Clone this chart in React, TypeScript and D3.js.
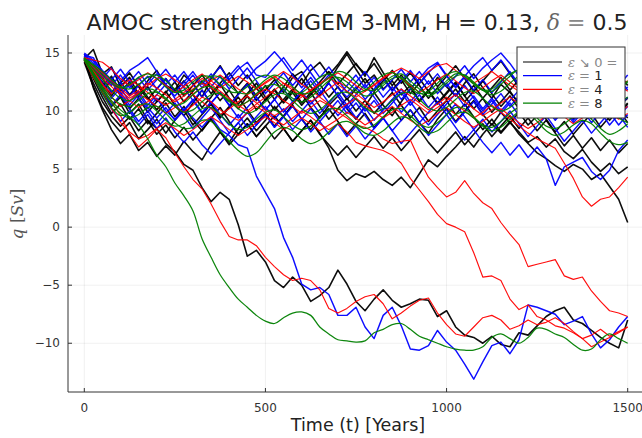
import React from "react";
import * as d3 from "d3";

// sample times (years), step 25
const years: number[] = d3.range(0, 1501, 25);

// ---------- ε ↘ 0 (black) ----------
const k1 = [14.5,15.3,13.2,13.8,12.1,12.9,11.4,12.6,13.5,12.2, 11.8,13.1,12.4,11.2,12.8,13.9,12.6,11.5,12.3,10.9, 11.8,12.7,11.6,12.9,13.4,12.1,11.3,12.5,13.8,14.9, 13.6,12.4,13.1,11.9,12.6,11.4,12.2,10.8,11.7,12.9, 12.1,11.3,12.4,13.2,12.0,11.1,12.3,11.6,10.7,11.9, 12.8,11.5,10.9,12.2,11.4,10.6,11.8,12.5,11.2,10.4, 11.1];
const k2 = [14.2,12.1,10.3,9.1,8.2,9.0,7.6,8.4,9.3,8.1, 9.2,10.1,8.8,9.7,10.6,9.4,10.3,11.2,10.1,9.0, 9.8,8.7,9.6,10.5,9.3,8.4,9.5,10.2,9.1,8.0, 8.9,9.8,8.6,9.4,10.3,9.2,10.1,9.0,8.1,9.3, 10.2,9.1,10.0,10.9,9.7,8.8,9.9,9.0,8.2,7.3, 7.8,6.9,7.6,6.5,5.9,6.7,5.6,4.8,5.5,4.6, 5.2];
const k3 = [14.6,12.0,10.1,8.4,7.2,8.0,6.6,7.3,6.1,7.0, 6.2,7.4,6.5,5.8,7.1,8.2,7.3,8.5,9.4,8.3, 9.2,10.4,9.5,10.6,11.5,10.3,9.4,10.5,11.3,10.2, 9.3,10.4,11.6,10.5,9.6,10.8,11.9,12.8,11.7,10.6, 11.5,12.4,11.3,10.2,11.1,9.9,10.8,11.7,10.6,9.5, 10.4,9.3,8.2,9.1,8.0,8.9,9.8,8.6,9.5,10.3, 9.4];
const k4 = [14.4,13.1,11.8,12.6,11.3,10.2,11.1,9.9,10.8,11.7, 10.5,9.6,10.7,11.8,10.6,9.5,10.4,11.5,12.4,11.3, 12.2,11.0,12.1,13.2,12.3,13.5,14.2,13.1,14.0,15.1, 14.0,13.2,14.1,12.9,11.8,12.7,11.5,12.4,13.3,12.1, 13.0,13.9,12.8,11.7,12.6,13.5,14.3,13.2,12.1,11.0, 11.9,12.8,11.6,10.5,11.4,12.3,11.1,10.2,11.0,9.8, 10.6];
const k5 = [14.5,12.8,11.2,9.8,10.6,9.3,10.2,8.9,9.8,10.7, 9.5,10.4,9.2,8.3,9.4,10.3,9.1,8.0,8.9,7.8, 8.7,9.6,8.5,7.4,8.3,9.2,8.1,6.8,4.9,4.0, 4.6,4.3,4.8,4.1,3.6,4.3,3.4,4.6,5.8,5.2, 6.1,6.9,7.8,6.9,8.0,8.9,8.1,9.0,9.9,8.8, 9.6,10.5,9.4,10.3,9.3,10.2,11.1,10.0,10.9,9.8, 10.7];
const k6 = [14.5,13.0,11.6,10.4,11.2,9.8,10.6,9.2,8.5,7.2, 6.5,5.4,4.9,3.4,2.2,3.0,2.4,0.2,-2.5,-2.0, -3.0,-4.6,-5.2,-4.3,-5.0,-6.4,-5.9,-5.2,-3.7,-4.9, -6.4,-7.2,-6.2,-5.4,-6.3,-6.9,-6.6,-6.2,-6.3,-7.7, -7.2,-8.6,-9.3,-9.5,-10.0,-9.4,-10.1,-10.3,-9.1,-9.3, -8.5,-7.7,-7.2,-6.9,-8.0,-8.3,-8.9,-9.5,-10.0,-10.4, -8.0];
const k7 = [14.3,13.6,12.2,13.0,11.7,12.5,11.2,12.1,10.8,11.6, 12.5,11.3,12.2,13.1,12.0,10.9,11.8,10.6,11.5,12.4, 11.2,10.1,11.0,11.9,10.7,11.6,10.4,9.3,10.2,11.1, 10.0,10.9,9.8,10.7,11.6,10.5,9.4,10.3,9.1,10.0, 10.9,9.7,10.6,9.5,8.4,9.3,8.2,9.1,8.0,7.2, 6.4,5.9,5.3,4.8,5.4,5.0,4.1,4.6,3.5,2.4, 0.4];
const k8 = [14.6,13.4,12.5,11.3,12.4,13.3,12.1,11.0,11.9,12.8, 11.7,12.6,11.4,10.3,11.2,12.3,11.1,10.2,11.3,10.1, 11.0,11.9,10.8,11.7,12.8,11.6,12.5,13.4,12.3,13.2, 14.1,13.0,14.6,13.3,12.2,13.1,12.0,10.9,11.8,10.7, 11.6,12.5,11.3,12.2,11.1,12.0,12.9,11.8,12.7,13.6, 12.5,13.4,12.3,13.2,14.1,13.0,14.6,13.5,12.4,13.3, 12.2];
const k9 = [14.4,12.4,10.8,9.6,8.7,9.5,8.3,9.2,8.0,8.8, 7.7,8.6,7.5,8.4,9.3,8.2,7.1,8.0,8.9,7.8, 8.7,7.6,8.5,7.4,8.3,9.2,8.0,7.1,6.2,7.0, 6.0,6.9,7.8,6.8,7.7,6.6,7.5,8.4,7.3,6.4, 7.3,8.2,7.1,8.0,8.9,7.8,8.7,9.6,8.5,9.4, 8.3,9.2,8.1,7.0,7.9,6.8,7.7,6.6,7.5,6.4, 7.2];
const k10 = [14.9,13.7,12.9,11.6,12.5,11.4,12.3,11.2,10.1,11.0, 11.9,10.8,11.7,12.6,11.5,12.4,13.3,12.2,13.1,12.0, 10.9,11.8,10.7,11.6,10.5,11.4,12.3,11.2,12.1,11.0, 11.9,12.8,11.7,12.6,13.5,12.4,13.3,12.2,11.1,12.0, 11.0,11.9,10.8,11.7,12.6,11.5,10.4,11.3,10.2,11.1, 10.0,10.9,11.8,10.7,11.6,10.5,9.4,10.3,9.2,10.1, 9.0];
const blackRuns = [k1, k2, k3, k4, k5, k6, k7, k8, k9, k10];

// ---------- ε = 1 (blue) ----------
const u1 = [14.8,14.6,13.2,12.5,11.4,12.3,11.0,10.2,11.1,10.0, 9.3,10.2,9.4,8.6,9.5,8.4,7.9,7.1,6.8,4.4, 3.0,1.6,-0.9,-2.6,-4.9,-5.4,-5.2,-5.8,-7.6,-7.6, -6.9,-8.6,-9.6,-7.6,-6.9,-8.5,-10.5,-10.6,-10.2,-8.9, -9.9,-10.6,-11.8,-13.1,-11.6,-10.2,-9.9,-10.9,-9.7,-6.7, -6.9,-7.2,-7.5,-8.4,-8.1,-7.7,-9.2,-10.4,-9.7,-8.6, -7.7];
const u2 = [14.8,14.1,12.8,11.6,12.5,11.3,12.2,13.0,11.9,12.8, 11.6,12.5,13.4,12.3,13.2,12.1,13.0,13.9,12.8,13.7, 14.3,15.1,14.2,13.1,12.0,12.9,11.8,10.7,11.6,10.5, 11.4,12.3,11.2,10.1,11.0,11.9,10.8,11.7,12.6,11.5, 12.4,11.3,12.2,11.1,10.0,10.9,9.8,10.7,9.6,10.5, 11.4,10.3,9.2,10.1,9.0,9.9,10.8,9.7,10.6,9.5, 10.4];
const u3 = [14.9,13.6,12.8,13.7,12.6,13.5,14.0,14.6,13.4,12.3, 13.1,12.0,10.9,11.8,10.7,11.6,10.5,11.4,12.3,11.2, 10.1,11.0,11.9,10.8,11.7,12.6,11.5,12.4,11.3,12.2, 13.1,12.0,12.9,11.8,12.7,13.6,12.5,13.4,12.3,13.2, 12.1,13.0,13.9,12.8,13.7,14.4,15.0,14.1,13.0,13.9, 12.8,11.7,12.6,11.5,12.4,11.3,12.2,13.1,12.0,12.9, 11.8];
const u4 = [14.7,13.2,11.9,10.5,11.4,10.2,9.1,10.0,8.9,9.8, 10.7,9.6,8.5,9.4,10.3,9.2,8.1,9.0,9.9,8.8, 9.7,8.6,9.5,10.4,9.3,8.2,9.1,8.0,8.9,7.8, 8.7,7.6,8.5,9.4,8.3,7.2,8.1,9.0,7.9,8.8, 9.7,8.6,7.5,8.4,7.3,6.4,7.3,6.2,7.1,6.0, 6.9,5.9,3.6,5.2,5.6,6.0,4.8,4.1,4.9,6.6, 7.5];
const u5 = [14.6,13.8,12.4,11.1,12.0,10.8,11.7,10.5,11.4,12.3, 11.1,10.0,10.9,9.8,10.7,11.6,10.5,9.4,10.3,11.2, 10.1,11.0,9.9,10.8,11.7,10.6,11.5,12.4,11.3,10.2, 11.1,10.0,10.9,9.8,10.7,11.6,10.5,11.4,10.3,11.2, 10.1,9.0,9.9,10.8,9.7,10.6,11.5,10.4,11.3,12.2, 11.1,12.0,10.9,11.8,12.7,11.6,12.5,11.4,12.3,11.2, 12.1];
const u6 = [14.8,14.3,13.1,12.2,13.1,12.0,12.9,11.8,12.7,13.6, 12.5,13.4,12.3,11.2,12.1,13.0,11.9,12.8,13.7,12.6, 11.5,12.4,13.3,12.2,13.1,14.0,12.9,13.8,12.7,11.6, 12.5,13.4,12.3,11.2,12.1,11.0,11.9,12.8,13.7,14.2, 13.1,12.0,12.9,11.8,12.7,11.6,12.5,13.4,12.3,13.2, 14.1,13.0,13.9,12.8,13.7,12.6,13.5,14.4,13.3,12.2, 13.1];
const u7 = [14.7,13.0,11.5,10.2,9.1,10.0,8.8,9.7,8.5,9.4, 8.2,7.3,8.2,7.1,6.3,7.2,8.1,9.0,7.9,8.8, 9.7,8.6,9.5,8.4,9.3,10.2,9.1,10.0,10.9,9.8, 10.7,9.6,8.5,9.4,8.3,9.2,10.1,9.0,9.9,10.8, 9.7,10.6,9.5,8.4,9.3,8.2,9.1,10.0,8.9,7.8, 8.7,9.6,8.5,7.4,8.3,9.2,8.1,9.0,9.9,8.8, 9.7];
const u8 = [15.0,14.4,13.5,12.7,13.6,12.5,13.4,12.3,13.2,12.1, 11.3,12.2,13.1,12.0,12.9,13.8,12.7,13.6,14.2,13.1, 12.9,13.8,14.6,13.5,14.4,13.3,12.2,13.1,12.0,11.2, 12.1,11.0,11.9,12.8,11.7,12.6,13.5,12.4,13.3,14.1, 13.0,12.1,13.0,13.9,14.6,13.5,14.4,13.3,12.2,13.1, 12.0,12.9,11.8,12.7,11.6,10.7,11.6,10.5,11.4,10.3, 11.2];
const u9 = [14.6,13.3,11.9,12.8,11.6,10.5,11.4,10.3,9.4,10.3, 9.2,10.1,11.0,9.9,10.8,9.7,8.8,9.7,8.6,9.5, 10.4,9.3,10.2,9.1,10.0,10.9,9.8,10.7,9.6,10.5, 9.4,10.3,9.2,10.1,11.0,9.9,10.8,9.7,8.8,9.7, 10.6,11.5,10.4,11.3,10.2,11.1,10.0,10.9,11.8,10.7, 11.6,10.5,11.4,10.3,9.2,10.1,9.0,9.9,8.8,9.7, 8.6];
const blueRuns = [u1, u2, u3, u4, u5, u6, u7, u8, u9];

// ---------- ε = 4 (red) ----------
const r1 = [14.5,13.3,12.0,10.8,9.6,8.0,6.9,7.6,8.4,7.7, 6.4,5.2,4.1,3.3,2.0,0.5,-0.8,-1.1,-1.1,-1.6, -2.6,-3.4,-4.1,-4.6,-4.4,-4.6,-5.4,-7.0,-7.4,-7.0, -6.4,-6.0,-5.8,-6.6,-7.9,-7.4,-6.8,-6.3,-6.1,-7.4, -8.4,-9.2,-9.4,-8.6,-7.8,-7.6,-8.0,-8.8,-8.5,-8.0, -8.4,-8.2,-7.8,-8.3,-9.0,-9.6,-9.3,-8.8,-9.4,-9.0, -8.6];
const r2 = [14.5,13.6,12.8,12.1,11.4,10.9,10.3,10.8,11.4,11.0, 10.4,9.9,10.5,11.2,10.8,10.1,9.6,9.2,9.8,10.4, 9.9,9.3,8.8,9.4,10.0,9.5,8.9,8.4,8.9,8.2, 7.3,7.0,6.8,6.6,6.2,5.5,4.2,3.2,2.2,1.1, 0.3,0.0,-0.4,-2.2,-4.3,-4.2,-4.6,-6.2,-7.1,-6.7, -7.7,-8.0,-8.5,-8.7,-9.1,-9.6,-10.3,-9.9,-9.5,-9.1, -8.6];
const r3 = [14.5,13.9,13.3,12.6,12.0,11.3,11.8,12.4,12.0,11.4, 10.8,11.3,11.9,12.4,12.0,11.4,10.9,10.3,10.8,11.4, 11.9,11.5,10.9,10.4,9.8,10.3,10.9,10.5,9.9,9.4, 8.8,8.6,8.2,7.6,7.2,7.4,7.5,5.8,4.3,3.4, 2.6,3.0,4.0,2.9,2.1,1.6,0.4,-0.6,-1.5,-3.4, -3.2,-3.0,-2.8,-4.2,-4.5,-4.3,-5.5,-6.4,-7.2,-7.4, -7.7];
const r4 = [14.4,13.5,12.3,11.5,12.1,12.7,12.2,11.6,11.0,10.5, 11.0,11.6,12.2,12.8,12.3,11.7,11.1,10.5,10.0,10.6, 11.2,11.8,12.4,12.0,11.4,10.8,11.3,11.9,12.5,12.1, 11.5,10.9,10.3,10.8,11.4,11.9,11.3,10.7,10.1,10.6, 11.2,10.6,10.0,9.4,9.9,10.5,9.9,9.3,8.7,8.1, 7.6,7.2,6.8,5.5,4.2,2.6,1.8,2.4,2.6,3.4, 4.3];
const r5 = [14.6,14.4,14.2,13.6,12.8,12.2,12.7,13.3,12.8,12.2, 11.6,12.1,12.7,13.2,12.6,12.0,12.5,13.0,12.5,11.9, 12.4,12.9,13.4,12.9,12.3,11.8,12.3,12.8,13.3,12.8, 12.2,11.7,12.2,12.8,13.3,13.7,13.3,12.8,13.4,13.9, 14.1,13.5,12.9,12.4,12.9,13.4,12.8,12.2,11.7,12.3, 12.9,13.4,12.8,12.2,11.7,12.2,12.8,13.3,12.7,12.1, 12.6];
const r6 = [14.5,13.4,12.3,11.2,10.4,10.9,11.5,11.0,10.4,9.8, 10.3,10.9,11.4,10.8,10.2,9.7,10.2,10.8,11.3,10.7, 10.1,9.6,10.1,10.7,11.2,11.8,11.2,10.6,10.1,10.6, 11.1,10.5,9.9,9.4,9.9,10.5,11.0,10.4,9.8,10.3, 10.9,11.4,10.8,10.2,9.6,10.1,10.7,11.2,10.6,10.0, 9.5,10.0,10.6,11.1,10.5,9.9,10.4,11.0,10.5,9.9, 10.4];
const r7 = [14.4,12.9,11.6,10.2,9.0,8.2,7.6,7.9,8.5,9.0, 8.5,7.9,8.4,9.0,9.5,9.0,8.4,7.9,8.4,9.0, 9.5,9.0,8.4,8.9,9.4,8.9,8.3,8.8,9.3,9.9, 9.4,8.8,9.3,9.9,10.4,9.8,9.2,8.7,9.2,9.8, 10.3,9.7,9.1,8.6,9.1,9.7,10.2,9.6,9.0,8.5, 9.0,9.6,10.1,9.5,8.9,9.4,10.0,10.5,9.9,9.3, 9.8];
const r8 = [14.6,13.8,13.0,12.4,11.7,11.1,11.6,12.2,12.8,13.2, 12.7,12.1,11.5,12.0,12.6,13.1,12.5,11.9,11.4,11.9, 12.5,13.0,12.4,11.8,11.3,11.8,12.4,12.9,12.3,11.7, 11.2,11.7,12.3,12.9,13.4,12.8,12.2,11.6,12.1,12.7, 13.2,12.6,12.0,11.5,12.0,12.6,13.1,12.5,11.9,11.4, 11.9,12.5,13.0,12.4,11.8,11.3,11.8,12.4,12.9,12.3, 11.7];
const redRuns = [r1, r2, r3, r4, r5, r6, r7, r8];

// ---------- ε = 8 (green) ----------
const g1 = [14.5,13.3,12.0,10.9,10.1,9.5,8.8,7.6,6.2,5.2, 3.8,2.7,1.4,-1.0,-2.6,-4.1,-5.2,-6.2,-6.9,-7.6, -8.1,-8.3,-7.8,-7.4,-7.3,-7.6,-8.6,-9.2,-9.7,-9.8, -9.9,-9.8,-9.1,-8.8,-8.4,-8.3,-8.8,-9.4,-9.7,-10.0, -10.3,-10.5,-10.6,-10.6,-10.3,-9.5,-9.2,-9.6,-10.0,-9.5, -8.7,-8.8,-9.2,-9.5,-10.1,-10.6,-10.5,-9.7,-9.2,-9.6, -10.0];
const g2 = [14.5,13.9,13.1,12.4,12.0,12.3,12.9,13.2,12.8,12.1, 11.6,11.8,12.5,13.0,12.9,12.3,11.7,11.6,12.1,12.8, 13.1,12.8,12.1,11.5,11.6,12.2,12.9,13.2,12.8,12.1, 11.6,11.8,12.5,13.1,13.3,12.8,12.0,11.5,11.7,12.4, 13.1,13.4,13.0,12.3,11.8,11.9,12.6,13.2,13.5,13.0, 12.2,11.7,11.9,12.6,13.2,13.3,12.7,12.0,11.6,11.9, 12.5];
const g3 = [14.4,13.3,12.1,11.2,10.6,10.4,10.9,11.5,11.6,11.1, 10.4,9.9,10.1,10.8,11.4,11.5,10.9,10.2,9.8,10.1, 10.8,11.4,11.5,10.9,10.2,9.8,10.1,10.8,11.5,11.6, 11.0,10.3,9.9,10.2,10.9,11.5,11.6,11.0,10.3,10.0, 10.3,11.0,11.6,11.7,11.1,10.4,10.0,10.3,11.0,11.5, 11.4,10.7,10.1,9.9,10.3,10.9,11.3,11.0,10.2,9.4, 9.0];
const g4 = [14.5,13.1,11.8,10.7,9.8,9.4,9.7,10.3,10.4,9.8, 9.0,8.5,8.6,9.2,9.1,8.3,7.4,6.6,6.1,6.4, 7.3,8.2,8.6,8.3,7.6,7.2,7.5,8.2,8.9,9.1, 8.7,8.1,7.9,8.3,9.0,9.5,9.3,8.6,8.1,8.3, 9.0,9.7,9.9,9.4,8.7,8.3,8.6,9.3,9.9,9.8, 9.1,8.3,7.9,8.2,8.8,9.2,8.9,8.1,7.4,7.1, 7.3];
const g5 = [14.6,13.6,12.7,11.8,11.1,10.9,11.4,11.9,11.7,11.0, 10.5,10.7,11.4,12.0,12.1,11.5,10.8,10.5,10.8,11.5, 12.1,12.3,11.8,11.1,10.8,11.2,11.9,12.6,12.9,12.5, 11.8,11.3,11.5,12.2,12.8,12.9,12.3,11.6,11.3,11.7, 12.4,13.0,13.1,12.5,11.8,11.4,11.7,12.4,13.0,13.1, 12.5,11.8,11.3,11.5,12.1,12.6,12.5,11.8,11.1,10.8, 11.2];
const g6 = [14.4,13.0,11.5,10.3,9.6,9.9,10.5,10.6,10.0,9.2, 8.7,8.9,9.6,10.2,10.3,9.7,8.9,8.4,8.6,9.3, 9.9,10.1,9.5,8.8,8.4,8.7,9.4,10.1,10.2,9.6, 8.9,8.5,8.8,9.5,10.1,10.2,9.6,8.9,8.6,9.0, 9.7,10.3,10.2,9.5,8.8,8.6,9.1,9.8,10.3,10.1, 9.4,8.7,8.5,8.9,9.5,9.8,9.3,8.5,8.0,8.3, 8.9];
const g7 = [14.5,14.0,13.4,12.7,12.1,11.9,12.3,12.9,13.1,12.6, 11.9,11.5,11.8,12.5,13.0,12.9,12.2,11.6,11.5,12.0, 12.7,13.1,12.8,12.1,11.5,11.6,12.2,12.9,13.4,13.2, 12.5,11.9,11.8,12.4,13.0,13.2,12.6,11.9,11.5,11.9, 12.6,13.2,13.1,12.4,11.8,11.7,12.3,13.0,13.6,13.4, 12.7,12.0,11.8,12.3,12.9,13.1,12.5,11.8,11.5,11.9, 12.6];
const greenRuns = [g1, g2, g3, g4, g5, g6, g7];

const xTicks = [0, 500, 1000, 1500];
const yTicks = [-10, -5, 0, 5, 10, 15];
const legendLabels = ["↘ 0 =", "= 1", "= 4", "= 8"];
const groupColors = ["#000000", "#0000ff", "#ff0000", "#008000"];

export default function App() {
  const L = 68, R = 644, T = 35, B = 392;
  const x = d3.scaleLinear().domain([-45, 1545]).range([L, R]);
  const y = d3.scaleLinear().domain([-14.2, 16.55]).range([B, T]);

  const rough = d3.line<number>().x((_, i) => x(years[i])).y((d) => y(d)).curve(d3.curveLinear);
  const smooth = d3.line<number>().x((_, i) => x(years[i])).y((d) => y(d)).curve(d3.curveCatmullRom.alpha(0.5));

  const groups = [
    { runs: blackRuns, color: groupColors[0], gen: rough, w: 1.6 },
    { runs: blueRuns, color: groupColors[1], gen: rough, w: 1.45 },
    { runs: redRuns, color: groupColors[2], gen: rough, w: 1.15 },
    { runs: greenRuns, color: groupColors[3], gen: smooth, w: 1.25 },
  ];

  const fmt = (v: number) => (v < 0 ? "\u2212" + Math.abs(v) : String(v));
  const lgX = 517, lgY = 47, lgW = 108, lgH = 71;

  return (
    <svg width={642} height={438} style={{ position: "absolute", left: 0, top: 0, background: "#fff" }} fontFamily="DejaVu Sans, sans-serif">
      <defs>
        <clipPath id="plotClip">
          <rect x={L} y={T} width={R - L} height={B - T} />
        </clipPath>
      </defs>
      {/* grid */}
      {xTicks.map((t) => (
        <line key={"gx" + t} x1={x(t)} x2={x(t)} y1={T} y2={B} stroke="#000" strokeOpacity={0.1} strokeWidth={0.6} />
      ))}
      {yTicks.map((t) => (
        <line key={"gy" + t} x1={L} x2={R} y1={y(t)} y2={y(t)} stroke="#000" strokeOpacity={0.1} strokeWidth={0.6} />
      ))}
      {/* series */}
      <g clipPath="url(#plotClip)" fill="none" strokeLinejoin="round">
        {groups.map((g, gi) =>
          g.runs.map((run, ri) => (
            <path key={gi + "-" + ri} d={g.gen(run) || ""} stroke={g.color} strokeWidth={g.w} strokeOpacity={0.95} />
          ))
        )}
      </g>
      {/* axes */}
      <line x1={L} x2={L} y1={T} y2={B} stroke="#333" strokeWidth={1} />
      <line x1={L} x2={R} y1={B} y2={B} stroke="#333" strokeWidth={1} />
      {xTicks.map((t) => (
        <g key={"tx" + t}>
          <line x1={x(t)} x2={x(t)} y1={B} y2={B - 4} stroke="#333" strokeWidth={1} />
          <text x={x(t)} y={412} textAnchor="middle" fontSize={12} fill="#333">{t}</text>
        </g>
      ))}
      {yTicks.map((t) => (
        <g key={"ty" + t}>
          <line x1={L} x2={L + 4} y1={y(t)} y2={y(t)} stroke="#333" strokeWidth={1} />
          <text x={60} y={y(t) + 4} textAnchor="end" fontSize={12} fill="#333">{fmt(t)}</text>
        </g>
      ))}
      {/* labels */}
      <text x={358} y={431} textAnchor="middle" fontSize={17.5} fill="#222">Time (t) [Years]</text>
      <text transform="translate(23,214) rotate(-90)" textAnchor="middle" fontSize={17} fill="#555" fontFamily="DejaVu Serif, serif">
        <tspan fontStyle="italic">q</tspan>
        <tspan> [</tspan>
        <tspan fontStyle="italic">Sv</tspan>
        <tspan>]</tspan>
      </text>
      <text x={357} y={30} textAnchor="middle" fontSize={22} fill="#222">
        AMOC strength HadGEM 3-MM, H = 0.13,{" "}
        <tspan fontFamily="DejaVu Serif, serif" fontStyle="italic" fill="#666">δ</tspan>
        <tspan fill="#888"> = </tspan>
        <tspan>0.5</tspan>
      </text>
      {/* legend */}
      <rect x={lgX} y={lgY} width={lgW} height={lgH} fill="#fff" stroke="#333" strokeWidth={1} />
      {legendLabels.map((lab, i) => {
        const yy = 62 + i * 13.7;
        return (
          <g key={"lg" + i}>
            <line x1={523} x2={562} y1={yy} y2={yy} stroke={groupColors[i]} strokeWidth={1.2} />
            <text x={568} y={yy + 4.5} fontSize={13} fill="#888">
              <tspan fontFamily="DejaVu Serif, serif" fontStyle="italic">ε</tspan>
              {i === 0 ? (
                <tspan> ↘ 0 =</tspan>
              ) : (
                <>
                  <tspan> = </tspan>
                  <tspan fill="#222">{lab.replace("= ", "")}</tspan>
                </>
              )}
            </text>
          </g>
        );
      })}
    </svg>
  );
}
